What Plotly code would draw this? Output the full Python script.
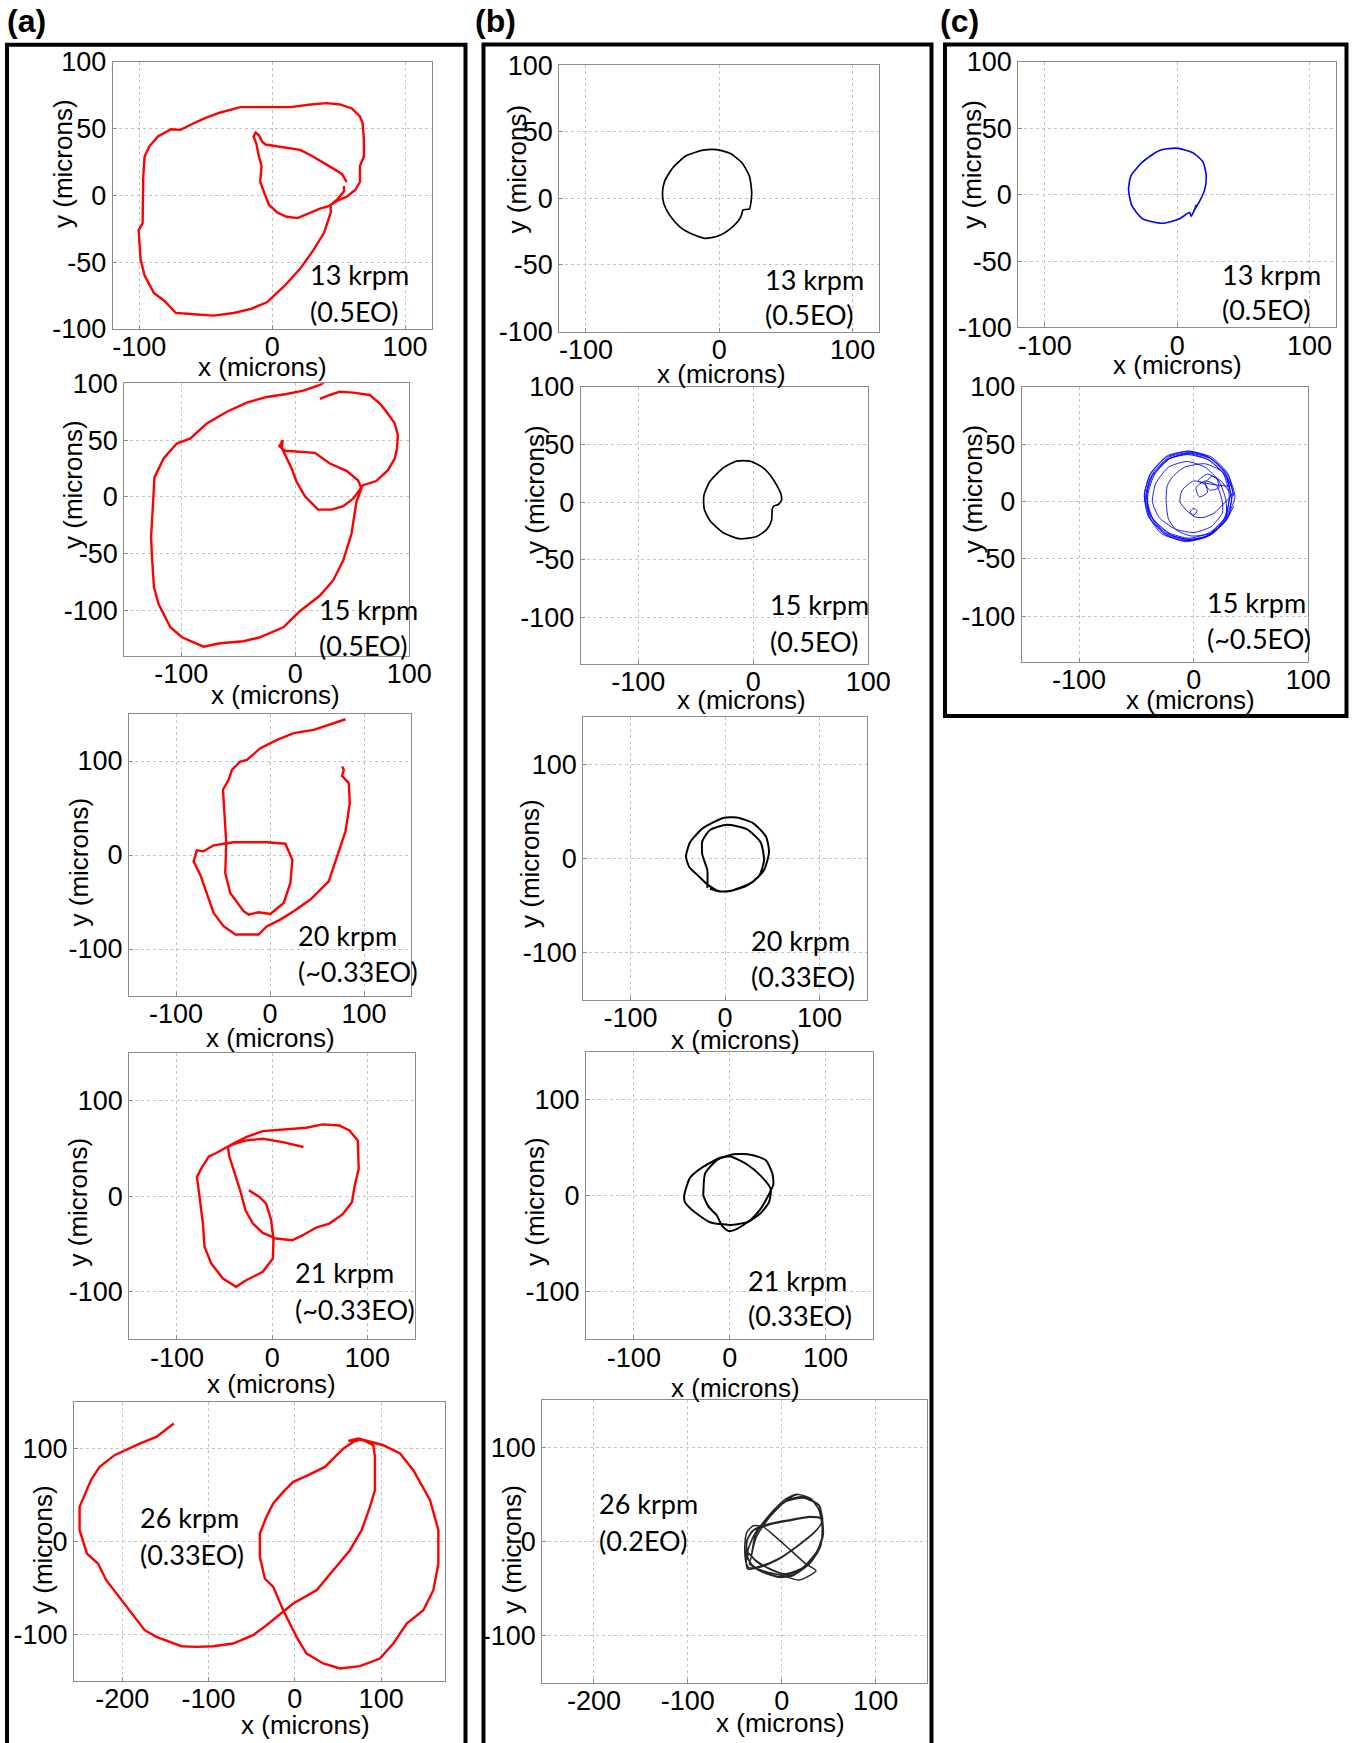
import plotly.graph_objects as go

W, H = 1356, 1743

# ---------------- orbit traces (microns) ----------------
# (a) measured orbits
a13_x = [56, 52.5, 46, 36, 29, 21, 14, 4, -5, -7.5, -10, -12.5, -14, -12, -10, -8, -9, -6, -2.5, 4,
         11, 19, 26, 36, 42.5, 49, 56, 62.5, 66, 66, 69, 69, 68, 66, 60, 51, 41, 29, 14, -4,
         -24, -39, -50, -61, -69, -76, -86, -92.5, -96, -97, -97, -97.5, -100.5, -99, -96, -89, -81, -72.5, -59, -44,
         -29, -16, -4, 9, 21, 31, 39, 44, 44, 49, 54, 54]
a13_y = [10, 16, 20, 26, 30, 34, 35, 37, 38, 40, 45, 47, 44, 39, 29, 22, 10, 2, -7, -13,
         -16, -17, -14, -10, -8, -4, -1, 4, 10, 22, 29, 42, 54, 59, 65, 68, 69, 68, 66, 66,
         66, 62, 58, 53, 49, 49.5, 44, 36.5, 29, 14, -3, -21, -26, -48, -60, -73, -79, -88, -89, -90,
         -88, -85, -80, -68, -55, -41, -28, -13, -7, -3, 3, 7]

a15_x = [32, 21.6, 7, -7.6, -25, -42.6, -60, -77.6, -92, -104, -115.5, -123.6, -124.8, -126.5, -125.7, -124,
         -120, -109.6, -99.4, -80.5, -66, -45.5, -31, -10.5, 4, 21.6, 33.2, 42, 49.3, 52, 53.6, 58, 55, 45,
         30.3, 17.2, 4, -9, -14, -11, -12, -8, -3.2, 1.2, 8.5, 20, 31.8, 42, 50.7, 59.5, 71, 81.3, 87.2,
         89.2, 90, 87.2, 80, 74, 65.3, 50.7, 39, 30.3, 21.6]
a15_y = [105, 98.5, 93.5, 90.6, 88, 83, 75, 64.7, 51.5, 47, 33.8, 17, -5.9, -35, -53, -79.4,
         -94, -114.7, -123.5, -131.8, -128.8, -127, -123.5, -114.7, -100.6, -86.8, -73.5, -56, -32.4, -14.7,
         -4.4, 7.4, 14.7, 23, 29.4, 38.8, 39.7, 40.6, 44.7, 50, 43.5, 35.3, 25, 13.2, 0.6, -11.2, -11.2,
         -8.2, -1.5, 10.3, 14, 23.5, 33.8, 42.6, 54.4, 64.7, 75, 82.4, 89.7, 91.8, 92.6, 89.7, 86.2]

a20_x = [80.3, 67.9, 46.5, 25.2, 7.5, -10.3, -24.5, -31.6, -40.5, -44, -50, -48.7, -46.5, -47.6, -42.3, -28,
         -22.7, -12.1, 0.4, 14.6, 21.7, 23.8, 18.1, 16.3, -3.2, -38.7, -60, -70.7, -77.8, -81.3, -74.2, -67.1,
         -60, -49.4, -36.9, -24.5, -12.1, -3.2, 11, 25.2, 43, 62.5, 71.4, 80.3, 84.9, 83.8, 76.7, 78.5, 76.7]
a20_y = [144.4, 140.2, 133.1, 129.6, 122.5, 113.6, 101.2, 99.5, 90.6, 80, 69.4, 48.1, 12.7, -19.1, -40.4, -59.8,
         -63.4, -60.9, -62.7, -51, -29.7, -5, 7.4, 12, 13.5, 13.5, 10.3, 3.9, 5, -6.7, -20.9, -40.4,
         -61.6, -75.8, -84.6, -84.6, -84.6, -75.8, -68.7, -59.8, -47.4, -28, -1.4, 25.1, 55.2, 76.5, 84.2, 90.6, 94.2]

a21_x = [32.9, 11.2, -9.8, -27.3, -41.3, -46.5, -44.8, -39.5, -33.6, -28, -20.3, -9.8, 4.2, 21, 32.2, 46.2,
         60.1, 74.1, 83.9, 86.4, 90.9, 89.9, 81.1, 70.6, 53.1, 35.7, 11.2, -9.8, -27.3, -41.3, -58.7, -66.4,
         -74.5, -79, -76.2, -72.7, -71, -64, -51.7, -37.8, -27.3, -20.3, -9.8, 0.7, 1.4, -1, -6.3, -13.3, -24.5]
a21_y = [51.7, 56.9, 60.4, 58.6, 54.5, 51.7, 41.2, 25.5, 6.3, -14.7, -28.6, -38.4, -44.3, -46.1, -40.8, -32.8,
         -28.6, -18.8, -5.9, 9.8, 29, 58.6, 69.1, 74.3, 75.4, 71.9, 69.8, 68.4, 62.1, 55.1, 45.4, 41.9,
         29, 20.2, -0.7, -28.6, -53, -70.5, -86.2, -94.9, -88, -84.5, -79.2, -65.3, -46.1, -25.1, -7.7, -0.7, 6.3]

a26_x = [-140.4, -160.5, -179.9, -208.9, -226.3, -236, -249.5, -249.5, -241, -228.2, -218.6, -195.4, -174.1,
         -160.5, -131.5, -114.1, -94.8, -71.6, -48.4, -32.9, -13.5, -1.9, 25.1, 44.5, 63.8, 77.4, 87, 92.8,
         92.8, 90.9, 79.3, 73.5, 61.9, 73.5, 83.2, 102.5, 121.9, 137.3, 156.7, 166.3, 166.3, 160.5, 148.9,
         129.6, 114.1, 98.6, 75.4, 52.2, 32.9, 13.5, 1.9, -13.5, -25.1, -34.8, -40.6, -40.6, -32.9, -25.1,
         -13.5, -1.9, 15.5, 34.8, 48.4, 56.1, 67.7, 75.4]
a26_y = [126.5, 112.2, 105, 92.5, 79.9, 66.3, 36.9, 11.8, -13.3, -24, -41.9, -70.6, -95.7,
         -102.9, -112.9, -113.6, -112.9, -110, -101.1, -90.3, -76, -67, -52.7, -31.2, -9.7, 11.8, 36.9, 54.8,
         90.7, 103.2, 108.6, 109.3, 107.9, 110.4, 107.9, 103.2, 94.3, 76.3, 44.1, 11.8, -24, -52.7, -74.2,
         -88.5, -110, -126.2, -134.4, -136.9, -131.5, -120.8, -102.9, -74.2, -49.1, -40.1, -16.8, 8.2, 26.2, 40.5,
         53, 63.8, 71, 79.9, 92.5, 99.6, 106.8, 109.3]

# (b) predicted orbits
b13_x = [18, 22.6, 23.8, 24.3, 22.6, 16.8, 8, -2, -12, -24.6, -34.6, -40.9, -42.6, -41.6, -37.1, -29.6,
         -19.5, -10.8, -0.8, 8, 14.3, 16.8, 17.5, 18]
b13_y = [-8.6, -7.9, -2.4, 4.5, 16.6, 26.9, 33.8, 36.6, 36.2, 32.1, 23.4, 13.1, 4.5, -4.1, -12.8, -21.4,
         -27.2, -30, -28.3, -23.1, -16.9, -12.1, -9.3, -8.6]

b15_x = [18, 21.7, 24.6, 23.8, 17.4, 8.7, -2.9, -14.5, -26.1, -37.7, -42.9, -42.6, -37.7, -26.1, -11.6, 2.9,
         11.6, 15.9, 16.5, 18]
b15_y = [-3.2, -2, 2, 7.9, 19.8, 29.8, 35.7, 35.7, 29.8, 17.9, 6, -6, -15.9, -26.6, -31.7, -29.8,
         -23.8, -15.9, -6, -3.2]

b20_x = [-18.7, -18.7, -24, -24, -15.9, 1.8, 23, 37.8, 41.3, 36.4, 23, 5.3, -7.1, -18.7, -28.3, -37.8,
         -41.3, -37.1, -23, -1.8, 12.4, 30, 43.5, 46.6, 41.3, 28.3, 8.8, -5.3, -15.9]
b20_y = [-31.1, -12.3, 4.2, 18.4, 30.2, 35.8, 31.1, 17, -1.9, -17.9, -28.8, -34.4, -34.4, -27.4, -18.4, -9,
         1.9, 17, 32.5, 42.9, 43.4, 37.3, 23.1, 6.6, -12.3, -25.5, -33.5, -34.9, -32.1]

b21_x = [-47.4, -41.4, -27.4, -9.8, 0.7, 18.2, 32.3, 42.8, 41.1, 32.3, 18.2, 0.7, -20.4, -37.9, -46.7, -47.4,
         None,
         -27.4, -25.6, -13.3, 4.2, 21.8, 37.5, 44.6, 45.6, 40.4, 32.3, 21.8, 7.7, -1.1, -8.1, -13.3, -22.1,
         -27.4, -27.4]
b21_y = [0, 18.5, 30.1, 39.4, 40.7, 32.4, 20.8, 6.9, -6.9, -18.5, -27.8, -30.6, -27.8, -16.2, -6.9, 0,
         None,
         4.6, 23.1, 37, 43.1, 42.6, 37, 23.1, 11.6, 0, -13.9, -25.5, -34.7, -37, -31.5, -20.8, -11.6,
         0, 4.6]

b26_x = [-32.6, -27.3, -13.1, 4.6, 17, 31.2, 40.1, 43.6, 40.8, 29.4, 11.7, -2.5, -20.2, -31.6, -36.2,
         -37.2, -30.9, -13.1, 8.2, 29.4, 41.8, 44.3, 38.3, 22.3, 4.6, -13.1, -27.3, -35.1,
         -37.9, -36.2, -23.8, -6, 15.2, 36.5, 42.9, 40.1, 24.1, 6.4, -11.3, -26.6, -34.4, -38.7,
         -39.4, -37.2, -30.1, -20.2, -6, 9.9, 25.9, 36.5, 18.8, 1.1, -20.2, -34.4, -32.6,
         -28.5, -14, 3.5, 16, 30.5, 39.5, 43, 41.5, 30, 12.5, -3, -21, -32, -37.5,
         -36.5, -29.5, -12, 9, 30, 42.5, 44, 37.5, 21.5, 3.5, -14, -28, -36,
         -38.5, -35, -22, -4.5, 16.5, 37.5, 43.5, 39, 23, 5, -12.5, -27.5, -35, -39]
b26_y = [-17, 4.2, 25.5, 43.2, 49.6, 45, 32.6, 14.9, -6.4, -24.1, -36.5, -38.2, -32.9, -25.8, -17,
         0.7, 11.3, 17.7, 21.9, 25.5, 23.7, 7.8, -11.7, -29.4, -35.4, -29.4, -21.2, -13.5,
         -22.3, -29.4, -27.6, -20.5, -6.4, 11.3, 21.2, 37.9, 47.4, 43.9, 29.7, 11.3, -4.6, -18.8,
         -6.4, 9.6, 16.6, 15.6, 4.2, -9.9, -24.1, -31.2, -41.1, -36.5, -31.2, -24.1, -17,
         5.5, 27, 44.5, 50, 45.5, 33.5, 15.5, -5, -23, -35.5, -37.5, -32, -24.5, -15,
         2, 12.5, 19, 23, 26.5, 24.5, 9, -10.5, -28.5, -34.5, -28.5, -20, -12,
         -20.5, -28, -26, -19, -5, 12.5, 22.5, 38.5, 46, 42.5, 28, 10, -6, -20]

# (c) alternative model orbits
c13_x = [12.4, 17, 20.8, 22, 19.5, 11.9, -0.8, -13.4, -26.1, -34.9, -36.7, -34.2, -26.1, -10.9, 1.8, 9.4,
         10.6, 13.2, 14.4]
c13_y = [-12.5, -4.9, 3.8, 14.2, 24.7, 31.6, 35.1, 33.3, 24.7, 14.2, 3.8, -8.3, -18.1, -21.5, -18.1, -13.5,
         -16.3, -11.1, -7.6]

c15_x = [35, 29.8, 15.5, -4, -23.5, -37.8, -43, -37.8, -23.5, -4, 15.5, 29.8,
         33, 28, 14, -5, -22, -36, -41, -36, -22, -4, 14, 28,
         31, 26, 12, -6, -24, -38, -42, -35, -20, -2, 16, 29,
         34, 27, 13, -3, -21, -35, -41, -38, -25, -6, 12, 27,
         36, 30, 16, -2, -20, -34, -40, -39, -28, -9, 10, 26,
         32, 27, 14, -4, -23, -37, -43, -40, -26, -7, 13, 28,
         28, 22, 10, -6, -22, -33, -36, -30, -16, 0, 15, 25,
         25, 20, 10, 2, 5, 12, 10, 0, -10, -12, -6, 0, 3, 0, -3, 0, 8, 18, 26, 33,
         30, 24, 16, 10, 14, 22, 20, 12, 4,
         32, 25, 10, -8, -18, -23, -24, -22, -15, -2, 14, 27, 35]
c15_y = [5, 24.5, 38.8, 44, 38.8, 24.5, 5, -14.5, -28.8, -34, -28.8, -14.5,
         3, 22, 36, 41, 37, 22, 4, -14, -27, -32, -27, -13,
         6, 24, 37, 42, 36, 20, 2, -16, -29, -33, -28, -12,
         8, 26, 39, 43, 39, 26, 8, -12, -27, -33, -30, -17,
         4, 23, 37, 42, 38, 24, 6, -13, -28, -34, -31, -16,
         7, 25, 38, 44, 40, 25, 7, -12, -28, -35, -30, -15,
         2, 18, 30, 35, 30, 16, 0, -14, -24, -27, -22, -10,
         0, 14, 18, 12, 4, 8, 15, 18, 10, 0, -8, -12, -8, -6, -9, -13, -14, -10, -2, 6,
         10, 18, 22, 16, 10, 12, 20, 24, 18,
         14, 26, 33, 30, 22, 14, 0, -15, -25, -30, -28, -18, -4]

# ---------------- panel texts ----------------
speed_labels = ["13 krpm", "15 krpm", "20 krpm", "21 krpm", "26 krpm",
                "13 krpm", "15 krpm", "20 krpm", "21 krpm", "26 krpm",
                "13 krpm", "15 krpm"]
eo_labels = ["(0.5EO)", "(0.5EO)", "(~0.33EO)", "(~0.33EO)", "(0.33EO)",
             "(0.5EO)", "(0.5EO)", "(0.33EO)", "(0.33EO)", "(0.2EO)",
             "(0.5EO)", "(~0.5EO)"]
ticks_fine = [-100, -50, 0, 50, 100]
ticks_coarse = [-100, 0, 100]
ticks_wide = [-200, -100, 0, 100]

RED, BLACK, BLUE = "#ff0000", "#000000", "#0000ff"

# pixel layout of each panel: plot box, axis ranges, title and label anchors
panels = [
    # column (a)
    dict(x=a13_x, y=a13_y, c=RED, w=2.4, sh="linear", box=(112.7, 431.7, 61.7, 329),
         xr=[-120, 120], yr=[-100, 100], xt=ticks_coarse, yt=ticks_fine,
         xtit=(262.5, 367), ytit=(63, 164), lab=(308, 274, 311)),
    dict(x=a15_x, y=a15_y, c=RED, w=2.4, sh="linear", box=(124.3, 409.3, 383.3, 656),
         xr=[-150, 100], yr=[-140, 100], xt=ticks_coarse, yt=ticks_fine,
         xtit=(275, 695), ytit=(73, 485), lab=(316.7, 609, 645.7)),
    dict(x=a20_x, y=a20_y, c=RED, w=2.4, sh="linear", box=(129, 411, 714, 996),
         xr=[-150, 150], yr=[-150, 150], xt=ticks_coarse, yt=ticks_coarse,
         xtit=(270, 1038), ytit=(78, 862.5), lab=(296, 935.7, 972)),
    dict(x=a21_x, y=a21_y, c=RED, w=2.4, sh="linear", box=(129.3, 415, 1053.3, 1339.3),
         xr=[-150, 150], yr=[-150, 150], xt=ticks_coarse, yt=ticks_coarse,
         xtit=(271.7, 1384), ytit=(77, 1202.5), lab=(292.7, 1272.3, 1309)),
    dict(x=a26_x, y=a26_y, c=RED, w=2.4, sh="linear", box=(74, 445, 1401.7, 1680.7),
         xr=[-256, 174], yr=[-150, 150], xt=ticks_wide, yt=ticks_coarse,
         xtit=(305.8, 1725), ytit=(43, 1550), lab=(138.3, 1517.3, 1554)),
    # column (b)
    dict(x=b13_x, y=b13_y, c=BLACK, w=1.7, sh="spline", box=(559.3, 879.3, 65.2, 331.5),
         xr=[-120, 120], yr=[-100, 100], xt=ticks_coarse, yt=ticks_fine,
         xtit=(721.7, 374), ytit=(516.7, 168.7), lab=(763.3, 279, 314.3)),
    dict(x=b15_x, y=b15_y, c=BLACK, w=1.7, sh="spline", box=(580.7, 868.3, 387, 663.5),
         xr=[-150, 100], yr=[-140, 100], xt=ticks_coarse, yt=ticks_fine,
         xtit=(741.7, 700), ytit=(535, 490), lab=(767.7, 605, 641.7)),
    dict(x=b20_x, y=b20_y, c=BLACK, w=2.0, sh="spline", box=(583.3, 866.7, 717, 1000),
         xr=[-150, 150], yr=[-150, 150], xt=ticks_coarse, yt=ticks_coarse,
         xtit=(735, 1040), ytit=(530, 864), lab=(749.3, 940.3, 976)),
    dict(x=b21_x, y=b21_y, c=BLACK, w=2.0, sh="spline", box=(586, 873.3, 1051.8, 1339.3),
         xr=[-150, 150], yr=[-150, 150], xt=ticks_coarse, yt=ticks_coarse,
         xtit=(735, 1387.5), ytit=(535, 1202), lab=(746, 1280.4, 1315)),
    dict(x=b26_x, y=b26_y, c="#262626", w=1.5, sh="spline", box=(542.3, 927.3, 1400, 1682.7),
         xr=[-255, 155], yr=[-150, 150], xt=ticks_wide, yt=ticks_coarse,
         xtit=(780, 1723.3), ytit=(511.7, 1549), lab=(596.7, 1503, 1540.7)),
    # column (c)
    dict(x=c13_x, y=c13_y, c=BLUE, w=1.6, sh="spline", box=(1018.3, 1336, 62, 327.4),
         xr=[-120, 120], yr=[-100, 100], xt=ticks_coarse, yt=ticks_fine,
         xtit=(1177.5, 365), ytit=(971.7, 164), lab=(1220, 274.4, 309.7)),
    dict(x=c15_x, y=c15_y, c=BLUE, w=0.9, sh="spline", box=(1021.7, 1308.3, 387, 662),
         xr=[-150, 100], yr=[-140, 100], xt=ticks_coarse, yt=ticks_fine,
         xtit=(1190, 700), ytit=(973.3, 489), lab=(1205, 602.7, 638)),
]

TICK_FONT = dict(family="Liberation Sans", size=27, color="black")
TITLE_FONT = dict(family="Liberation Sans", size=26, color="black")
LABEL_FONT = dict(family="Lato", size=27, color="black")


def px(xp):
    return xp / W


def py(yp):
    return 1 - yp / H


fig = go.Figure()
layout = {}
annotations = []

for i, p in enumerate(panels, start=1):
    sfx = "" if i == 1 else str(i)
    xa, ya = "x" + sfx, "y" + sfx
    fig.add_trace(go.Scatter(
        x=p["x"], y=p["y"], xaxis=xa, yaxis=ya, mode="lines",
        line=dict(color=p["c"], width=p["w"], shape=p["sh"], smoothing=0.6),
        hoverinfo="skip", showlegend=False, connectgaps=False,
    ))
    l, r, t, b = p["box"]
    common = dict(
        showline=True, mirror=True, linecolor="#8c8c8c", linewidth=1,
        showgrid=True, gridcolor="#c4c4c4", griddash="dot", gridwidth=1,
        zeroline=False, ticks="inside", ticklen=4, tickcolor="#8c8c8c",
        tickfont=TICK_FONT, fixedrange=True, automargin=False,
    )
    layout["xaxis" + sfx] = dict(
        common, domain=[px(l), px(r)], range=p["xr"], anchor=ya,
        tickvals=p["xt"], ticktext=[str(v) for v in p["xt"]], ticklabelstandoff=-6,
    )
    layout["yaxis" + sfx] = dict(
        common, domain=[py(b), py(t)], range=p["yr"], anchor=xa,
        tickvals=p["yt"], ticktext=[str(v) for v in p["yt"]],
    )
    # axis titles
    annotations.append(dict(text="x (microns)", x=px(p["xtit"][0]), y=py(p["xtit"][1]),
                            xref="paper", yref="paper", xanchor="center", yanchor="middle",
                            showarrow=False, font=TITLE_FONT))
    annotations.append(dict(text="y (microns)", x=px(p["ytit"][0]), y=py(p["ytit"][1]),
                            xref="paper", yref="paper", xanchor="center", yanchor="middle",
                            textangle=-90, showarrow=False, font=TITLE_FONT))
    # speed / engine-order label
    lx, ly1, ly2 = p["lab"]
    annotations.append(dict(text=speed_labels[i - 1], x=px(lx), y=py(ly1), xref="paper", yref="paper",
                            xanchor="left", yanchor="middle", showarrow=False, font=LABEL_FONT))
    annotations.append(dict(text=eo_labels[i - 1], x=px(lx), y=py(ly2), xref="paper", yref="paper",
                            xanchor="left", yanchor="middle", showarrow=False, font=LABEL_FONT))

# column letters
for txt, x0 in (("(a)", 5), ("(b)", 473), ("(c)", 938)):
    annotations.append(dict(text="<b>%s</b>" % txt, x=px(x0), y=py(21), xref="paper", yref="paper",
                            xanchor="left", yanchor="middle", showarrow=False,
                            font=dict(family="Liberation Sans", size=32, color="black")))

# frames around each column (the two long columns run off the bottom edge)
shapes = []
for x0, x1, y0 in ((7, 465.5, 44.7), (483.5, 931.5, 44.5)):
    shapes.append(dict(type="path", xref="paper", yref="paper",
                       path="M %f,%f L %f,%f L %f,%f L %f,%f" % (px(x0), -0.01, px(x0), py(y0),
                                                                 px(x1), py(y0), px(x1), -0.01),
                       line=dict(color="black", width=4), layer="above"))
shapes.append(dict(type="rect", xref="paper", yref="paper",
                   x0=px(945), x1=px(1346.5), y0=py(716), y1=py(44.5),
                   line=dict(color="black", width=4), fillcolor="rgba(0,0,0,0)", layer="above"))

fig.update_layout(
    width=W, height=H, margin=dict(l=0, r=0, t=0, b=0, pad=0, autoexpand=False),
    paper_bgcolor="white", plot_bgcolor="white", showlegend=False,
    annotations=annotations, shapes=shapes, **layout,
)

# pin the figure to the top-left corner of the page, with nothing around it
pin_page = """
var gd = document.getElementById('{plot_id}');
var root = document.documentElement, body = document.body;
root.style.margin = '0'; root.style.padding = '0'; root.style.overflow = 'hidden';
body.style.margin = '0'; body.style.padding = '0'; body.style.overflow = 'hidden';
gd.style.position = 'fixed'; gd.style.left = '0px'; gd.style.top = '0px';
"""

fig.write_html("out.html", config={"displayModeBar": False, "staticPlot": True},
               post_script=pin_page)
